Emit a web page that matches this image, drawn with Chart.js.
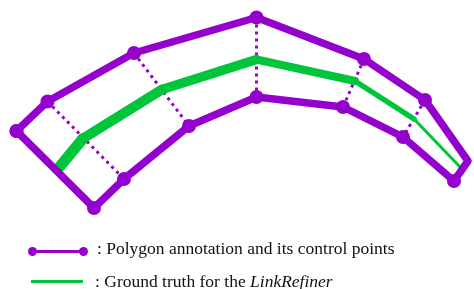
<!DOCTYPE html>
<html>
<head>
<meta charset="utf-8">
<script src="https://cdn.jsdelivr.net/npm/chart.js@4"></script>
<style>
  html, body { margin: 0; padding: 0; background: #fff; }
  #wrap { position: relative; width: 474px; height: 289px; overflow: hidden; }
  #myChart { position: absolute; left: 0; top: 0; }
  .lg { position: absolute; font-family: "Liberation Serif", "Times New Roman", serif;
        font-size: 17.5px; line-height: 17.5px; color: #111; white-space: nowrap; }
  .swatch { position: absolute; height: 3px; }
  .dot { position: absolute; width: 9px; height: 9px; border-radius: 50%; background: #9400cc; }
</style>
</head>
<body>
<div id="wrap">
  <canvas id="myChart" width="474" height="289"></canvas>
  <div class="swatch" style="left:33px; top:250px; width:50px; background:#9400cc;"></div>
  <div class="dot" style="left:28px; top:247px;"></div>
  <div class="dot" style="left:79px; top:247px;"></div>
  <div class="lg" style="left:97px; top:240px;">: Polygon annotation and its control points</div>
  <div class="swatch" style="left:31px; top:280px; width:52px; background:#00c43a;"></div>
  <div class="lg" style="left:95px; top:273px;">: Ground truth for the <i>LinkRefiner</i></div>
</div>
<script>
  // Polygoon (gesloten), waarden
  const polygonX = [16.5, 47.5, 134, 256.5, 364, 425, 468, 454, 403, 343, 256.5, 189, 124, 94, 16.5];
  const polygonY = [131, 101.5, 53, 17.5, 59, 100, 161, 181, 137, 107, 97, 126, 179, 208, 131];
  const polygonDot = [1, 1, 1, 1, 1, 1, 0, 1, 1, 1, 1, 1, 1, 1, 1];

  // Stippellijnen tussen boven- en onderrand
  const dividerFrom = [[47.5, 101.5], [134, 53], [256.5, 17.5], [364, 59], [425, 100]];
  const dividerTo = [[124, 179], [189, 126], [256.5, 97], [343, 107], [403, 137]];

  // Ground truth (groene lijn), dikte per segment
  const truthX = [59.5, 83, 162, 256.5, 355, 414, 462];
  const truthY = [167, 138.5, 89.5, 59.5, 81, 119, 169];
  const truthWidth = [11, 10, 9.5, 8, 5.5, 3];

  const purple = '#9400cc';
  const green = '#00c43a';

  function createChart(ctx) {
    const dividers = dividerFrom.map((p, i) => ({
      type: 'scatter',
      data: [{ x: p[0], y: p[1] }, { x: dividerTo[i][0], y: dividerTo[i][1] }],
      showLine: true,
      borderColor: purple,
      borderWidth: 3,
      borderDash: [3, 4],
      pointRadius: 0,
      order: 3
    }));

    const chart = new Chart(ctx, {
      type: 'scatter',
      data: {
        datasets: [
          ...dividers,
          {
            data: truthX.map((x, i) => ({ x: x, y: truthY[i] })),
            showLine: true,
            borderColor: green,
            borderCapStyle: 'round',
            borderJoinStyle: 'round',
            pointRadius: 0,
            segment: {
              borderWidth: c => truthWidth[c.p0DataIndex]
            },
            order: 2
          },
          {
            data: polygonX.map((x, i) => ({ x: x, y: polygonY[i] })),
            showLine: true,
            borderColor: purple,
            borderWidth: 7.5,
            borderJoinStyle: 'round',
            borderCapStyle: 'round',
            pointRadius: polygonDot.map(d => d ? 7 : 0),
            pointBackgroundColor: purple,
            pointBorderWidth: 0,
            order: 1
          }
        ]
      },
      options: {
        responsive: false,
        animation: false,
        clip: false,
        layout: { padding: 0, autoPadding: false },
        plugins: { legend: { display: false }, tooltip: { enabled: false } },
        scales: {
          x: { type: 'linear', min: 0, max: 474, display: false },
          y: { type: 'linear', min: 0, max: 289, reverse: true, display: false }
        }
      }
    });
    return chart;
  }

  window.addEventListener('DOMContentLoaded', () => {
    const ctx = document.getElementById('myChart').getContext('2d');
    createChart(ctx);
  });
</script>
</body>
</html>
